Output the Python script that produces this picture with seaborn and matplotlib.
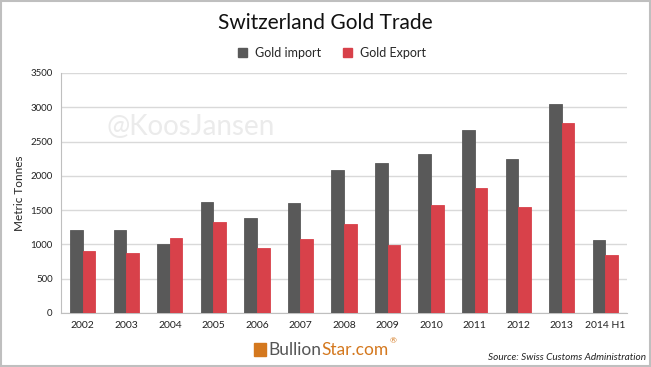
import numpy as np
import pandas as pd
import matplotlib
matplotlib.use('Agg')
import matplotlib.pyplot as plt
import seaborn as sns
from matplotlib.patches import Rectangle

# Du lieu doc tu bieu do (tan)
years = ['2002', '2003', '2004', '2005', '2006', '2007', '2008',
         '2009', '2010', '2011', '2012', '2013', '2014 H1']
gold_import = [1210, 1210, 1005, 1620, 1380, 1610, 2080,
               2185, 2320, 2665, 2240, 3050, 1065]
gold_export = [908, 875, 1100, 1322, 948, 1080, 1295,
               990, 1570, 1818, 1545, 2770, 850]
series = ['Gold import', 'Gold Export']
colors = ['#595959', '#D8414A']

df = pd.DataFrame({
    'year': years * 2,
    'value': gold_import + gold_export,
    'series': [series[0]] * len(years) + [series[1]] * len(years),
})

sns.set_style('white')
plt.rcParams['font.family'] = ['Lato', 'DejaVu Sans']

fig = plt.figure(figsize=(6.51, 3.67), dpi=100)
ax = fig.add_axes([61 / 651, 1 - 313 / 367, 566 / 651, 240 / 367])

sns.barplot(data=df, x='year', y='value', hue='series', order=years,
            hue_order=series, palette=colors, width=0.58, saturation=1,
            errorbar=None, ax=ax, legend=False, zorder=3)
# cho hai cot dinh sat nhau nhu ban goc
for p in ax.patches:
    p.set_edgecolor(p.get_facecolor())
    p.set_linewidth(0.6)

ax.set_ylim(0, 3500)
ax.set_xlim(-0.5, len(years) - 0.5)
ax.set_yticks(np.arange(0, 3501, 500))
ax.yaxis.grid(True, color='#D9D9D9', linewidth=1, zorder=0)
ax.set_axisbelow(True)
for s in ['top', 'right']:
    ax.spines[s].set_visible(False)
ax.spines['left'].set_color('#BFBFBF')
ax.spines['bottom'].set_color('#BFBFBF')
ax.tick_params(axis='y', labelsize=7, length=0, pad=6, labelcolor='#222222')
ax.tick_params(axis='x', labelsize=7.5, length=0, pad=6, labelcolor='#222222')
ax.set_xticks(np.arange(-0.5, len(years), 1), minor=True)
ax.tick_params(axis='x', which='minor', length=4, color='#BFBFBF', direction='out')
ax.set_xlabel('')
ax.set_ylabel('Metric Tonnes', fontsize=8.5, labelpad=4)

# tieu de va chu thich
fig.text(0.5, 1 - 23 / 367, 'Switzerland Gold Trade', ha='center', va='center',
         fontsize=15, color='#111111')
handles = [Rectangle((0, 0), 1, 1, color=c) for c in colors]
fig.legend(handles, series, loc='center', bbox_to_anchor=(0.51, 1 - 53 / 367),
           ncol=2, frameon=False, fontsize=9, handlelength=0.7, handleheight=0.7,
           columnspacing=1.8, handletextpad=0.6)

# watermark
fig.text(191 / 651, 1 - 127 / 367, '@KoosJansen', ha='center', va='center',
         fontsize=20, color='#EBEBEB', zorder=0)

# logo + nguon
fig.patches.append(Rectangle((254 / 651, 1 - 356 / 367), 12 / 651, 13 / 367,
                             transform=fig.transFigure, color='#D4781E'))
t1 = fig.text(268 / 651, 1 - 350 / 367, 'Bullion', ha='left', va='center',
              fontsize=12.5, color='#555555')
fig.canvas.draw()
bb = t1.get_window_extent()
x2 = bb.x1 / fig.bbox.width
t2 = fig.text(x2, 1 - 350 / 367, 'Star.com', ha='left', va='center',
              fontsize=12.5, color='#D4781E')
fig.canvas.draw()
bb2 = t2.get_window_extent()
fig.text(bb2.x1 / fig.bbox.width + 0.002, 1 - 341 / 367, '®', ha='left',
         va='center', fontsize=6, color='#D4781E')
fig.text(646 / 651, 1 - 358 / 367, 'Source: Swiss Customs Administration',
         ha='right', va='center', fontsize=7.2, style='italic', color='#222222')

# khung vien
fig.patches.append(Rectangle((0.001, 0.002), 0.997, 0.995, transform=fig.transFigure,
                             fill=False, edgecolor='#BFBFBF', linewidth=1.5))

plt.savefig('out.png', dpi=100)
